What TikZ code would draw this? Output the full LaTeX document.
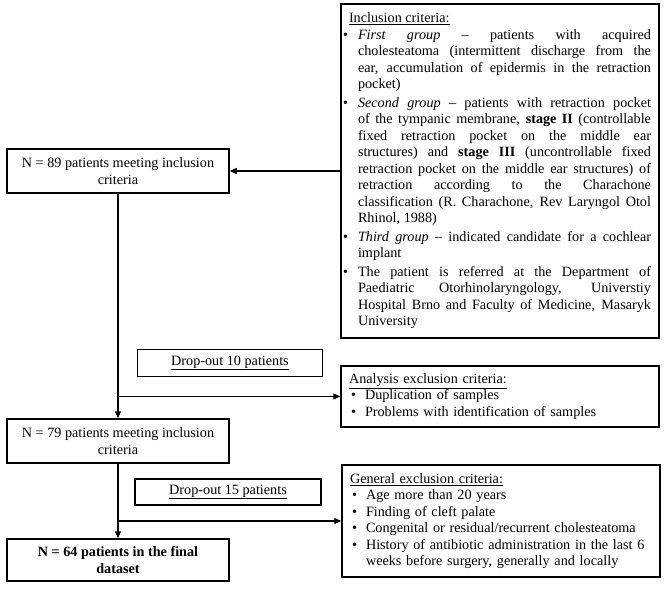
\documentclass[tikz,border=0pt]{standalone}
\usepackage{fontspec}
\setmainfont{Liberation Serif}
\usepackage{enumitem}
\usetikzlibrary{arrows.meta}
\setlist[itemize]{label=\textbullet, topsep=0pt, partopsep=0pt, parsep=0pt, itemsep=0pt}
\tolerance=9999
\hyphenpenalty=10000

\begin{document}
\begin{tikzpicture}[x = 1pt, y = -1pt,
  box/.style = {draw, line width = 1.5pt, inner xsep = 8pt, inner ysep = 0pt,
                font = \fontsize{14.2}{16.5}\selectfont},
  countbox/.style = {box, align = center, minimum width = 222pt, minimum height = 44pt},
  dropbox/.style = {box, align = center, minimum width = 185pt, minimum height = 27pt},
  critbox/.style = {box, text width = 302pt, minimum height = #1},
  flow/.style = {line width = 1.3pt, -{Triangle[length = 7pt, width = 6pt]}}]
\useasboundingbox (0,0) rectangle (666,589);
% left column
\node [countbox] (n89) at (118,171) {N = 89 patients meeting inclusion\\criteria};
\node [countbox] (n79) at (118,441) {N = 79 patients meeting inclusion\\criteria};
\node [countbox, minimum height = 42pt] (n64) at (118,560) {\bfseries N = 64 patients in the final\\\bfseries dataset};
\node [dropbox] (drop10) at (230,363) {\underline{Drop-out 10 patients}};
\node [dropbox, minimum width = 186pt, minimum height = 26pt] (drop15) at (228,492) {\underline{Drop-out 15 patients}};
% right column
\node [critbox = 334pt, align = justify] (inc) at (500,171) {\underline{Inclusion criteria:}
\begin{itemize}[leftmargin = 9pt, labelsep = 10pt, itemsep = 2pt]
\item \textit{First group} -- patients with acquired\linebreak cholesteatoma (intermittent discharge from the\linebreak ear, accumulation of epidermis in the retraction\linebreak pocket)
\item \textit{Second group} -- patients with retraction pocket\linebreak of the tympanic membrane, \textbf{stage II} (controllable\linebreak fixed retraction pocket on the middle ear\linebreak structures) and \textbf{stage III} (uncontrollable fixed\linebreak retraction pocket on the middle ear structures) of\linebreak retraction according to the Charachone\linebreak classification (R. Charachone, Rev Laryngol Otol\linebreak Rhinol, 1988)
\item \textit{Third group} -- indicated candidate for a cochlear\linebreak implant
\item The patient is referred at the Department of\linebreak Paediatric Otorhinolaryngology, Universtiy\linebreak Hospital Brno and Faculty of Medicine, Masaryk\linebreak University
\end{itemize}};
\node [critbox = 61pt, align = left] (ana) at (500,396.5) {\underline{Analysis exclusion criteria:}
\begin{itemize}[leftmargin = 16pt, labelsep = 9pt]
\item Duplication of samples
\item Problems with identification of samples
\end{itemize}};
\node [critbox = 112pt, align = left] (gen) at (501,521) {\underline{General exclusion criteria:}
\begin{itemize}[leftmargin = 16pt, labelsep = 9pt]
\item Age more than 20 years
\item Finding of cleft palate
\item Congenital or residual/recurrent cholesteatoma
\item History of antibiotic administration in the last 6\\weeks before surgery, generally and locally
\end{itemize}};
% connectors
\coordinate (split1) at (n89.south |- ana.west);
\coordinate (split2) at (n79.south |- gen.west);
\draw [flow] (inc.west) -- (n89.east);
\draw [flow] (n89.south) -- (n79.north);
\draw [flow] (split1) -- (ana.west);
\draw [flow] (n79.south) -- (n64.north);
\draw [flow] (split2) -- (gen.west);
\end{tikzpicture}
\end{document}
